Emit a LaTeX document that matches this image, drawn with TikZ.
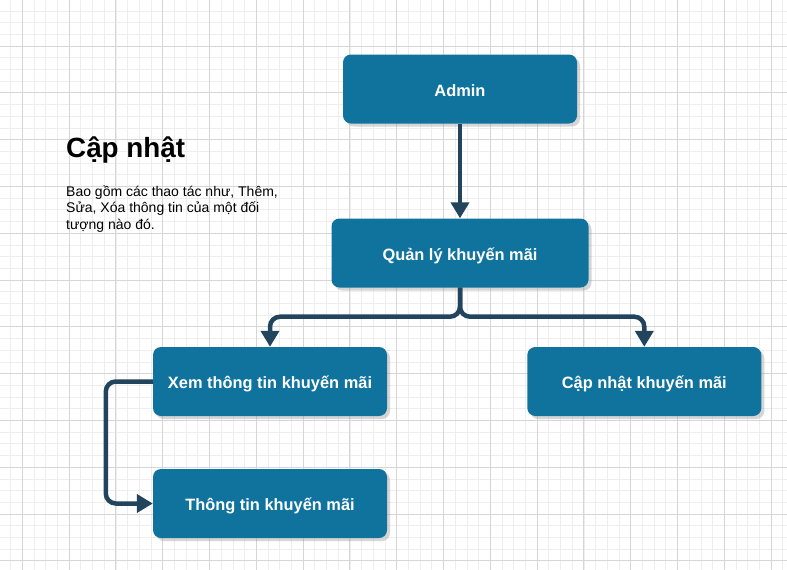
\documentclass[tikz,border=0pt]{standalone}
\usepackage{fontspec}
\setmainfont{Liberation Sans}
\usetikzlibrary{arrows.meta,shadows,calc}
\definecolor{boxblue}{HTML}{10739E}
\definecolor{linenavy}{HTML}{23445D}
\definecolor{minorgrid}{HTML}{EEEEEE}
\definecolor{majorgrid}{HTML}{D6D6D6}
\tikzset{
  minorline/.style={draw=minorgrid, line width=0.8pt},
  majorline/.style={draw=majorgrid, line width=0.9pt},
  bluebox/.style={rectangle, rounded corners=8pt, fill=boxblue, draw=none,
    text=white, font=\fontsize{16.4}{19}\selectfont\bfseries,
    text height=16pt, text depth=2pt,
    drop shadow={shadow xshift=3pt, shadow yshift=-3pt, fill=black!40, opacity=0.4},
    inner sep=0pt},
  conn/.style={draw=linenavy, line width=4.5pt, rounded corners=10pt,
    -{Triangle[width=18pt,length=16pt]}},
  bodytext/.style={anchor=base west, inner sep=0pt, font=\fontsize{14}{16.5}\selectfont, text=black}
}
\begin{document}
\begin{tikzpicture}[x=1pt,y=-1pt]
\useasboundingbox (0,0) rectangle (787,570);
\fill[white] (0,0) rectangle (787,570);
% grid
\foreach \i in {0,...,68} { \draw[minorline] ({-1.1+11.7*\i},0) -- ({-1.1+11.7*\i},570); }
\foreach \i in {0,...,49} { \draw[minorline] (0,{-0.8+11.7*\i}) -- (787,{-0.8+11.7*\i}); }
\foreach \i in {0,...,16} { \draw[majorline] ({22.3+46.8*\i},0) -- ({22.3+46.8*\i},570); }
\foreach \i in {0,...,12} { \draw[majorline] (0,{-0.8+46.8*\i}) -- (787,{-0.8+46.8*\i}); }
% boxes
\node[bluebox, minimum width=234pt, minimum height=69pt] (admin) at (460,89) {Admin};
\node[bluebox, minimum width=257pt, minimum height=69pt] (ql) at (460,253) {Quản lý khuyến mãi};
\node[bluebox, minimum width=234pt, minimum height=69pt] (xem) at (270,381.5) {Xem thông tin khuyến mãi};
\node[bluebox, minimum width=234pt, minimum height=69pt] (cap) at (644.3,381.5) {Cập nhật khuyến mãi};
\node[bluebox, minimum width=234pt, minimum height=69pt] (tt) at (270,503.5) {Thông tin khuyến mãi};
% connectors
\draw[conn] (admin.south) -- (ql.north);
\draw[conn] (ql.south) -- ++(0,29) -| (xem.north);
\draw[conn] (ql.south) -- ++(0,29) -| (cap.north);
\draw[conn] (xem.west) -- ++(-47,0) |- (tt.west);
% text
\node[anchor=base west, inner sep=0pt, font=\fontsize{27.8}{32}\selectfont\bfseries] (title) at (66,157) {Cập nhật};
\node[bodytext] (t1) at (66,196) {Bao gồm các thao tác như, Thêm,};
\node[bodytext] (t2) at (66,212.5) {Sửa, Xóa thông tin của một đối};
\node[bodytext] (t3) at (66,229) {tượng nào đó.};
\end{tikzpicture}
\end{document}
